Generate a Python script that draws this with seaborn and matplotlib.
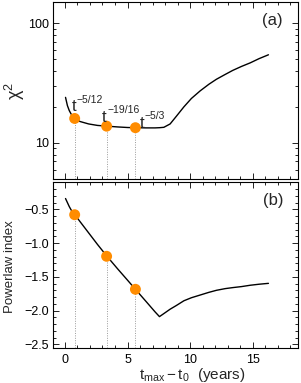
import matplotlib
matplotlib.use("Agg")
import matplotlib.pyplot as plt
import seaborn as sns
import pandas as pd
import numpy as np
from matplotlib.ticker import MultipleLocator, LogLocator, NullFormatter, FixedLocator

# ---- data ----
t_curve = [0.05, 0.2, 0.35, 0.5, 0.8, 1.2, 1.9, 2.6, 3.36, 4.2, 5.0, 5.63, 6.5, 7.2,
           7.55, 7.9, 8.4, 8.9, 9.5, 10.1, 10.8, 11.5, 12.1, 12.8, 13.4, 14.1, 14.8,
           15.5, 16.25]
chi2_curve = [24.0, 20.5, 18.6, 17.4, 16.0, 15.1, 14.4, 14.0, 13.8, 13.6, 13.45, 13.4,
              13.35, 13.35, 13.4, 13.5, 14.4, 16.7, 20.0, 23.5, 27.2, 30.9, 34.0, 37.3,
              40.3, 43.5, 46.6, 50.5, 54.4]
index_curve = [-0.34, -0.40, -0.46, -0.51, -0.58, -0.68, -0.85, -1.02, -1.196, -1.38,
               -1.55, -1.685, -1.87, -2.02, -2.09, -2.045, -1.98, -1.925, -1.855, -1.81,
               -1.77, -1.73, -1.70, -1.675, -1.66, -1.645, -1.625, -1.61, -1.597]

t_points = [0.78, 3.33, 5.63]
chi2_points = [16.0, 13.8, 13.4]
index_points = [-0.58, -1.196, -1.685]
exponents = ["\u22125/12", "\u221219/16", "\u22125/3"]
label_x = [0.52, 2.97, 5.95]
label_y = [18.3, 15.0, 13.3]

x_ticks = [0, 5, 10, 15]
y_ticks_b = [-0.5, -1.0, -1.5, -2.0, -2.5]

curve = pd.DataFrame({"t": t_curve, "chi2": chi2_curve, "index": index_curve})
pts = pd.DataFrame({"t": t_points, "chi2": chi2_points, "index": index_points})

sns.set_theme(style="ticks")
plt.rcParams["font.family"] = ["Liberation Sans", "DejaVu Sans"]
plt.rcParams["mathtext.fontset"] = "custom"
plt.rcParams["mathtext.rm"] = "Liberation Sans"
plt.rcParams["mathtext.it"] = "Liberation Sans:italic"
plt.rcParams["mathtext.bf"] = "Liberation Sans:bold"
plt.rcParams["axes.linewidth"] = 0.8

W, H = 301, 383
fig = plt.figure(figsize=(W / 100, H / 100), dpi=100)
ax1 = fig.add_axes([53 / W, 1 - 179 / H, 245.5 / W, 177 / H])
ax2 = fig.add_axes([53 / W, 1 - 348 / H, 245.5 / W, 166 / H])

orange = "#ff8c00"
xlim = (-0.95, 18.65)

# ---- panel (a) ----
ax1.set_yscale("log")
ax1.set_xlim(*xlim)
ax1.set_ylim(5, 150)
sns.lineplot(data=curve, x="t", y="chi2", ax=ax1, color="black", lw=1.0, sort=False)
for tx, cy in zip(t_points, chi2_points):
    ax1.plot([tx, tx], [5, cy], ls=(0, (1, 1.5)), color="#999999", lw=0.7, zorder=1)
sns.scatterplot(data=pts, x="t", y="chi2", ax=ax1, color=orange, s=62,
                edgecolor="none", zorder=3)
for lx, ly, ex in zip(label_x, label_y, exponents):
    ax1.text(lx, ly, "t", fontsize=12, ha="left", va="baseline")
    ax1.annotate(ex, xy=(lx, ly), xytext=(3.8, 6.4), textcoords="offset points",
                 fontsize=7.5, ha="left", va="baseline")
ax1.text(0.895, 0.895, "(a)", transform=ax1.transAxes, fontsize=12,
         ha="center", va="center")
ax1.set_xlabel("")
ax1.set_ylabel(r"$\mathregular{\chi^2}$", fontsize=13)
ax1.yaxis.set_label_coords(-0.105, 0.5)
ax1.xaxis.set_major_locator(FixedLocator(x_ticks))
ax1.xaxis.set_minor_locator(MultipleLocator(1))
ax1.set_xticklabels([])
ax1.yaxis.set_minor_locator(LogLocator(base=10, subs=np.arange(2, 10), numticks=12))
ax1.yaxis.set_minor_formatter(NullFormatter())
ax1.set_yticks([10, 100])
ax1.set_yticklabels(["10", "100"])

# ---- panel (b) ----
ax2.set_xlim(*xlim)
ax2.set_ylim(-2.555, -0.095)
sns.lineplot(data=curve, x="t", y="index", ax=ax2, color="black", lw=1.0, sort=False)
for tx, iy in zip(t_points, index_points):
    ax2.plot([tx, tx], [-2.555, iy], ls=(0, (1, 1.5)), color="#999999", lw=0.7, zorder=1)
sns.scatterplot(data=pts, x="t", y="index", ax=ax2, color=orange, s=62,
                edgecolor="none", zorder=3)
ax2.text(0.898, 0.89, "(b)", transform=ax2.transAxes, fontsize=12,
         ha="center", va="center")
ax2.set_ylabel("Powerlaw index", fontsize=9.5)
ax2.yaxis.set_label_coords(-0.149, 0.49)
ax2.set_xlabel(r"$\mathregular{t_{max}-t_0}$  (years)", fontsize=11)
ax2.xaxis.set_label_coords(0.568, -0.108)
ax2.xaxis.set_major_locator(FixedLocator(x_ticks))
ax2.xaxis.set_minor_locator(MultipleLocator(1))
ax2.set_yticks(y_ticks_b)
ax2.set_yticklabels([f"{v:.1f}".replace("-", "\u2212") for v in y_ticks_b])
ax2.yaxis.set_minor_locator(MultipleLocator(0.1))

for ax in (ax1, ax2):
    for s in ax.spines.values():
        s.set_visible(True)
        s.set_linewidth(0.8)
        s.set_color("black")
    ax.tick_params(which="both", direction="in", top=True, right=True,
                   labelsize=9, colors="black", width=0.6)
    ax.tick_params(which="major", length=4, pad=3)
    ax.tick_params(which="minor", length=2)
    ax.tick_params(axis="x", which="major", pad=4)

fig.savefig("out.png", dpi=100)
